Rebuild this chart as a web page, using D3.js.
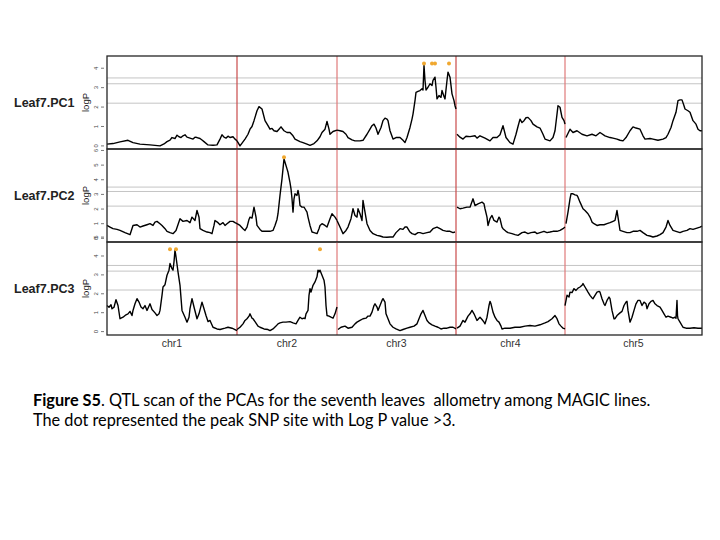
<!DOCTYPE html>
<html>
<head>
<meta charset="utf-8">
<script src="https://cdn.jsdelivr.net/npm/d3@7"></script>
<style>
  body { margin: 0; background: #fff; }
  svg { display: block; }
  .caption { white-space: pre; }
</style>
</head>
<body>
<div id="chart"></div>
<script>
// chromosome names and lengths (cM)
const chrNames = ["chr1", "chr2", "chr3", "chr4", "chr5"];
const chrLengths = [130, 100, 119, 109, 137];

const traitNames = ["Leaf7.PC1", "Leaf7.PC2", "Leaf7.PC3"];
const thresholds = [2.2, 3.2, 3.5];
const yTicks = [[0, 1, 2, 3, 4], [0, 1, 2, 3, 4, 5, 6], [0, 1, 2, 3, 4, 5]];
const yDomains = [[-0.16, 4.63], [-0.25, 6.1], [-0.18, 4.74]];

// scan results, one array of [cM, logP] per chromosome
const pc1Scan = [
  [[0,0.09],[6,0.12],[13,0.21],[21,0.29],[26,0.17],[33,0.09],[43,0.05],[53,0.0],[57,0.1],[60,0.22],[63,0.3],[65,0.43],[68,0.38],[70,0.55],[72,0.47],[74,0.43],[76,0.52],[78,0.57],[80,0.45],[83,0.4],[86,0.35],[88,0.45],[90,0.43],[93,0.38],[95,0.3],[97,0.22],[101,0.05],[106,0.03],[110,0.05],[113,0.35],[115,0.57],[117,0.45],[119,0.4],[121,0.5],[123,0.43],[126,0.47],[128,0.35],[130,0.26]],
  [[0,0.26],[3,0.0],[8,0.35],[11,0.6],[13,0.86],[15,1.0],[17,1.3],[20,1.81],[22,2.02],[25,1.9],[28,1.3],[31,1.04],[33,0.86],[35,0.9],[37,0.78],[40,0.74],[42,0.86],[44,0.98],[47,0.78],[50,0.69],[53,0.69],[56,0.52],[58,0.35],[63,0.22],[66,0.17],[70,0.09],[73,0.03],[77,0.12],[80,0.26],[83,0.47],[85,0.69],[88,0.86],[90,1.26],[92,0.86],[93,0.6],[96,0.74],[100,0.81]],
  [[0,0.81],[3,0.78],[6,0.74],[9,0.6],[11,0.43],[15,0.31],[18,0.26],[23,0.26],[26,0.29],[30,0.6],[33,0.86],[35,1.04],[37,1.12],[39,0.92],[41,0.6],[44,0.95],[46,1.3],[48,1.43],[50,1.38],[51,1.3],[53,0.78],[56,0.35],[59,0.43],[63,0.43],[66,0.29],[68,0.17],[70,0.43],[73,0.95],[75,1.38],[76,1.64],[78,2.33],[79,2.76],[81,2.81],[83,2.85],[85,2.94],[86,2.88],[87,4.15],[88,3.37],[89,2.88],[91,3.02],[93,3.2],[95,3.11],[96,3.37],[98,3.54],[99,3.02],[100,2.42],[102,2.59],[104,2.5],[105,2.85],[107,2.54],[108,2.42],[110,3.37],[111,3.8],[113,3.54],[115,2.68],[117,2.33],[118,2.07],[119,1.9]],
  [[1,0.6],[4,0.45],[7,0.35],[10,0.5],[14,0.48],[19,0.52],[21,0.4],[24,0.52],[29,0.4],[34,0.26],[37,0.43],[41,0.43],[44,0.57],[47,1.04],[50,0.43],[54,0.17],[57,0.09],[60,0.6],[62,1.0],[64,1.38],[66,1.2],[68,1.3],[70,1.45],[72,1.47],[75,1.3],[77,1.12],[81,0.98],[84,0.92],[87,0.6],[89,0.35],[94,0.26],[97,0.43],[99,0.78],[101,1.64],[102,2.07],[104,1.99],[106,1.47],[108,1.3],[109,1.12]],
  [[1,0.43],[5,0.86],[8,0.69],[12,0.78],[17,0.6],[22,0.52],[27,0.6],[31,0.52],[35,0.69],[40,0.52],[45,0.43],[48,0.4],[52,0.35],[55,0.29],[58,0.26],[61,0.43],[65,0.78],[68,0.98],[71,0.92],[75,0.86],[78,0.52],[80,0.35],[85,0.38],[88,0.35],[93,0.29],[98,0.35],[101,0.43],[103,0.6],[106,0.95],[108,1.3],[111,1.73],[113,2.33],[115,2.37],[117,2.37],[119,2.07],[120,1.9],[123,1.81],[125,1.73],[128,1.3],[131,1.12],[133,0.86],[135,0.78],[137,0.78]]
];

const pc2Scan = [
  [[0,0.88],[3,0.77],[6,0.66],[10,0.61],[13,0.54],[18,0.39],[23,0.25],[26,0.88],[30,0.93],[33,0.77],[36,0.84],[40,0.93],[43,1.0],[46,0.88],[48,1.11],[50,1.16],[53,1.0],[55,0.88],[58,0.66],[60,0.48],[63,0.39],[66,0.32],[69,0.54],[73,1.34],[76,1.16],[80,1.22],[83,1.07],[85,1.45],[88,1.22],[90,1.9],[92,1.45],[93,0.66],[96,0.54],[100,0.43],[103,0.39],[105,0.32],[107,0.88],[108,1.22],[111,1.07],[113,0.93],[116,1.07],[118,0.88],[120,1.0],[123,1.16],[126,1.16],[128,1.07],[130,1.0]],
  [[0,1.0],[3,0.88],[6,0.66],[8,0.54],[10,0.77],[12,1.29],[13,1.45],[15,1.38],[17,2.13],[19,1.45],[20,0.88],[23,0.61],[25,0.48],[29,0.48],[33,0.48],[36,0.54],[38,0.88],[40,1.29],[41,1.68],[43,2.93],[45,4.06],[46,4.74],[47,5.42],[48,5.2],[50,4.74],[51,4.51],[53,3.81],[54,3.38],[55,2.7],[56,1.79],[57,2.7],[58,3.04],[60,2.93],[61,3.27],[62,2.93],[63,2.24],[65,2.13],[67,2.13],[68,2.02],[70,1.79],[71,1.45],[73,0.88],[75,0.43],[77,0.39],[80,0.32],[82,0.66],[83,0.88],[85,1.0],[88,0.88],[90,0.77],[93,1.34],[95,1.68],[98,1.45],[100,1.22]],
  [[0,1.22],[3,0.77],[6,0.32],[9,0.54],[11,0.77],[14,1.34],[16,2.02],[18,1.56],[20,1.45],[21,2.02],[23,1.68],[25,1.22],[26,2.59],[28,1.79],[30,1.0],[33,0.54],[36,0.32],[40,0.2],[43,0.16],[46,0.09],[50,0.07],[53,0.09],[56,0.09],[59,0.39],[63,0.66],[66,0.61],[68,0.77],[70,0.77],[73,0.43],[75,0.32],[78,0.25],[81,0.39],[83,0.39],[86,0.32],[90,0.39],[93,0.43],[96,0.66],[100,0.77],[103,0.66],[106,0.54],[110,0.48],[113,0.48],[116,0.39],[118,0.43]],
  [[1,2.13],[4,2.02],[7,2.06],[11,2.13],[14,2.13],[17,2.7],[19,2.24],[22,2.36],[26,2.47],[28,2.36],[29,2.02],[31,1.45],[32,0.88],[34,1.34],[36,1.56],[38,1.22],[41,1.11],[43,1.45],[44,1.34],[46,0.77],[47,0.66],[50,0.48],[52,0.39],[56,0.32],[59,0.25],[62,0.2],[66,0.39],[69,0.43],[72,0.32],[75,0.39],[79,0.43],[81,0.32],[84,0.39],[88,0.48],[91,0.39],[94,0.43],[97,0.48],[101,0.48],[104,0.54],[107,0.66],[109,0.77]],
  [[1,1.0],[3,1.79],[5,2.7],[6,3.04],[8,3.04],[10,2.97],[12,2.93],[13,2.81],[15,2.47],[18,2.02],[20,1.9],[23,1.68],[25,1.45],[27,1.11],[29,1.0],[32,0.88],[35,0.93],[39,0.93],[42,1.0],[45,1.07],[48,1.16],[50,1.22],[52,1.9],[53,1.45],[55,0.54],[58,0.48],[62,0.39],[65,0.39],[68,0.48],[72,0.48],[75,0.54],[78,0.39],[82,0.2],[85,0.16],[88,0.09],[92,0.16],[95,0.25],[98,0.39],[101,0.77],[103,1.22],[105,0.88],[108,0.54],[111,0.48],[115,0.39],[118,0.48],[122,0.54],[125,0.66],[128,0.61],[132,0.7],[135,0.77],[137,0.84]]
];

const pc3Scan = [
  [[0,1.38],[2,1.29],[4,1.42],[5,1.21],[7,1.29],[9,1.69],[11,1.38],[13,0.68],[16,0.76],[19,0.89],[21,0.94],[23,1.07],[25,0.85],[26,1.12],[28,1.47],[30,1.74],[32,1.56],[34,1.3],[36,1.21],[38,1.38],[40,1.12],[43,1.47],[45,1.17],[48,0.99],[50,0.85],[52,0.94],[53,1.12],[55,1.92],[56,2.36],[58,2.48],[60,2.98],[62,3.25],[63,3.6],[65,3.33],[66,3.25],[67,3.69],[68,4.31],[69,3.96],[71,3.16],[73,2.45],[75,1.12],[78,0.76],[80,0.5],[82,0.76],[83,1.21],[85,1.74],[87,1.3],[90,0.68],[92,0.94],[95,1.56],[97,1.21],[99,0.85],[101,0.53],[103,0.59],[106,0.23],[110,0.14],[113,0.11],[118,0.18],[121,0.23],[125,0.18],[128,0.11],[130,0.05]],
  [[0,0.11],[3,0.23],[6,0.41],[8,0.59],[10,0.68],[12,0.82],[13,0.94],[15,0.71],[16,0.68],[18,0.53],[21,0.29],[23,0.23],[27,0.14],[31,0.11],[33,0.05],[36,0.14],[39,0.29],[41,0.41],[43,0.46],[46,0.5],[49,0.5],[53,0.53],[56,0.46],[59,0.41],[61,0.59],[63,0.76],[65,0.68],[67,0.71],[68,0.68],[69,0.94],[71,1.12],[72,1.92],[73,2.27],[74,2.09],[76,2.45],[78,2.63],[80,2.9],[81,3.25],[82,3.16],[83,3.25],[85,2.98],[87,2.72],[88,2.36],[89,1.38],[90,0.85],[92,0.82],[94,0.76],[96,0.71],[98,0.94],[100,1.3]],
  [[1,0.11],[4,0.23],[8,0.29],[11,0.18],[15,0.23],[18,0.41],[20,0.5],[23,0.59],[26,0.68],[29,0.71],[31,0.82],[33,0.82],[35,1.03],[37,1.38],[38,1.47],[40,1.3],[41,1.12],[43,1.38],[45,1.65],[46,1.74],[48,1.56],[49,0.94],[51,0.68],[53,0.41],[56,0.23],[59,0.14],[63,0.05],[66,0.11],[70,0.18],[73,0.23],[77,0.29],[80,0.41],[82,0.68],[84,0.94],[86,1.12],[88,0.85],[90,0.59],[92,0.46],[95,0.36],[98,0.29],[101,0.23],[104,0.14],[107,0.18],[110,0.18],[113,0.23],[116,0.23],[119,0.14]],
  [[1,0.18],[4,0.29],[7,0.59],[9,0.5],[12,0.82],[14,0.94],[16,1.12],[18,0.94],[20,0.71],[21,0.59],[23,0.71],[24,0.76],[26,0.64],[28,0.5],[29,0.41],[31,0.76],[33,1.38],[34,1.6],[35,1.47],[37,1.03],[39,0.76],[41,0.59],[43,0.5],[45,0.29],[46,0.14],[49,0.18],[54,0.18],[59,0.23],[64,0.23],[69,0.29],[74,0.32],[79,0.29],[84,0.36],[89,0.46],[92,0.53],[96,0.68],[99,0.85],[101,0.68],[103,0.41],[105,0.29],[107,0.18],[109,0.14]],
  [[0,1.38],[2,1.92],[4,1.83],[5,2.09],[7,2.06],[9,2.27],[11,2.18],[13,2.3],[15,2.36],[17,2.45],[18,2.54],[20,2.36],[22,2.18],[23,2.09],[25,1.92],[27,1.78],[28,1.74],[30,1.92],[32,2.09],[34,2.13],[35,2.09],[37,1.74],[39,1.47],[40,1.38],[42,1.65],[44,1.83],[45,1.74],[47,1.12],[49,0.68],[50,0.68],[52,0.85],[55,0.99],[57,1.07],[59,1.38],[61,1.56],[62,1.6],[63,1.12],[65,0.5],[67,0.76],[69,1.12],[71,1.47],[73,1.65],[75,1.65],[77,1.38],[79,1.56],[81,1.47],[82,1.21],[84,1.47],[86,1.6],[88,1.65],[90,1.47],[92,1.38],[95,1.3],[97,1.12],[99,0.94],[101,0.76],[103,0.82],[106,0.76],[108,0.71],[110,0.76],[111,0.71],[112,1.65],[112.5,0.85],[113,0.68],[115,0.5],[118,0.23],[121,0.18],[125,0.18],[129,0.2],[133,0.18],[137,0.18]]
];

// peak SNPs with logP > 3: [trait index, chromosome index, cM, dot height]
const peakDots = [
  [0, 2, 87, 4.25], [0, 2, 95, 4.25], [0, 2, 98, 4.25], [0, 2, 112, 4.25],
  [1, 1, 47, 5.53],
  [2, 0, 63, 4.36], [2, 0, 69, 4.36], [2, 1, 83, 4.35]
];

const captionBold = "Figure S5";
const captionLine1 = ". QTL scan of the PCAs for the seventh leaves  allometry among MAGIC lines.";
const captionLine2 = "The dot represented the peak SNP site with Log P value >3.";

const scans = [pc1Scan, pc2Scan, pc3Scan];

const width = 720, height = 540;
const plotLeft = 107, plotRight = 702;
const panelTop = 56, panelH = 93;

const svg = d3.select("#chart").append("svg")
  .attr("width", width)
  .attr("height", height);

// chromosome offsets along the genome
const chrStart = [];
chrLengths.reduce((acc, len, i) => { chrStart[i] = acc; return acc + len; }, 0);
const totalLen = d3.sum(chrLengths);

const x = d3.scaleLinear().domain([0, totalLen]).range([plotLeft, plotRight]);
const chrColors = ["#c94a4a", "#e07a7a", "#c94a4a", "#e07a7a"];

traitNames.forEach((name, t) => {
  const top = panelTop + t * panelH;
  const y = d3.scaleLinear().domain(yDomains[t]).range([top + panelH, top]);
  const g = svg.append("g").attr("class", "panel");

  // threshold lines
  g.selectAll("line.thr")
    .data(thresholds)
    .enter().append("line")
    .attr("x1", plotLeft).attr("x2", plotRight)
    .attr("y1", d => y(d)).attr("y2", d => y(d))
    .attr("stroke", "#c4c4c4").attr("stroke-width", 1);

  // chromosome boundaries
  g.selectAll("line.chr")
    .data(chrStart.slice(1))
    .enter().append("line")
    .attr("x1", d => x(d)).attr("x2", d => x(d))
    .attr("y1", top).attr("y2", top + panelH)
    .attr("stroke", (d, i) => chrColors[i]).attr("stroke-width", 1.2);

  // logP curves, one per chromosome
  const line = d3.line()
    .x(d => d.x)
    .y(d => y(d[1]));
  scans[t].forEach((pts, c) => {
    g.append("path")
      .datum(pts.map(p => Object.assign([p[0], p[1]], { x: x(chrStart[c] + p[0]) })))
      .attr("d", line)
      .attr("fill", "none")
      .attr("stroke", "#000")
      .attr("stroke-width", 1.4)
      .attr("stroke-linejoin", "round");
  });

  // peak dots
  g.selectAll("circle")
    .data(peakDots.filter(d => d[0] === t))
    .enter().append("circle")
    .attr("cx", d => x(chrStart[d[1]] + d[2]))
    .attr("cy", d => y(d[3]))
    .attr("r", 2)
    .attr("fill", "#f0a830");

  // frame
  g.append("rect")
    .attr("x", plotLeft).attr("y", top)
    .attr("width", plotRight - plotLeft).attr("height", panelH)
    .attr("fill", "none").attr("stroke", "#262626").attr("stroke-width", 1.3);

  // y ticks (rotated labels, as in R)
  const ticks = g.selectAll("g.tick")
    .data(yTicks[t])
    .enter().append("g")
    .attr("transform", d => `translate(0,${y(d)})`);
  ticks.append("line")
    .attr("x1", 101).attr("x2", 104)
    .attr("stroke", "#555").attr("stroke-width", 0.8);
  ticks.append("text")
    .attr("transform", "translate(98,0) rotate(-90)")
    .attr("text-anchor", "middle")
    .attr("font-family", "Liberation Sans, Arial, sans-serif")
    .attr("font-size", 6)
    .attr("fill", "#444")
    .text(d => d);

  // axis title and trait name
  const mid = top + panelH / 2;
  g.append("text")
    .attr("transform", `translate(89,${mid}) rotate(-90)`)
    .attr("text-anchor", "middle")
    .attr("font-family", "Liberation Sans, Arial, sans-serif")
    .attr("font-size", 9.5)
    .attr("fill", "#222")
    .text("logP");
  g.append("text")
    .attr("x", 14).attr("y", mid + 4.5)
    .attr("font-family", "Liberation Sans, Arial, sans-serif")
    .attr("font-weight", "bold")
    .attr("font-size", 12.5)
    .attr("fill", "#222")
    .text(name);
});

// chromosome labels
svg.selectAll("text.chrlab")
  .data(chrNames)
  .enter().append("text")
  .attr("class", "chrlab")
  .attr("x", (d, i) => x(chrStart[i] + chrLengths[i] / 2))
  .attr("y", 347)
  .attr("text-anchor", "middle")
  .attr("font-family", "Liberation Sans, Arial, sans-serif")
  .attr("font-size", 10.5)
  .attr("fill", "#333")
  .text(d => d);

// caption
const cap = svg.append("text")
  .attr("class", "caption")
  .attr("x", 33).attr("y", 406)
  .attr("font-family", "Lato, Open Sans, sans-serif")
  .attr("font-size", 16.3)
  .attr("fill", "#000");
cap.append("tspan").attr("font-weight", "bold").text(captionBold);
cap.append("tspan").text(captionLine1);
svg.append("text")
  .attr("class", "caption")
  .attr("x", 33).attr("y", 426)
  .attr("font-family", "Lato, Open Sans, sans-serif")
  .attr("font-size", 16.3)
  .attr("fill", "#000")
  .text(captionLine2);
</script>
</body>
</html>
